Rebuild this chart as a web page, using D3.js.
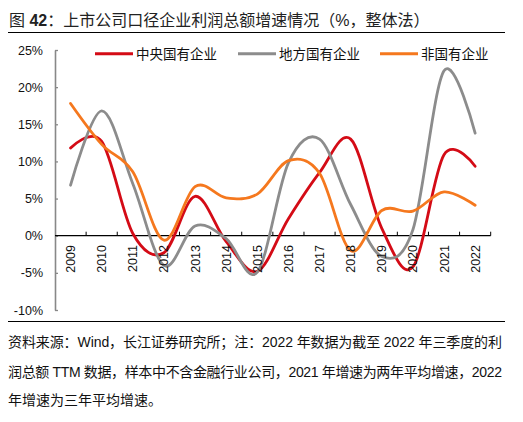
<!DOCTYPE html>
<html lang="zh">
<head>
<meta charset="UTF-8">
<title>上市公司口径企业利润总额增速情况</title>
<script src="https://cdn.jsdelivr.net/npm/d3@7"></script>
<style>
  body { margin: 0; background: #fff; }
  svg { display: block; font-family: "Liberation Sans", Arial, "Noto Sans CJK SC", sans-serif; }
</style>
</head>
<body>
<div id="chart"></div>
<script>
// values (%)
var years = ["2009", "2010", "2011", "2012", "2013", "2014", "2015", "2016", "2017", "2018", "2019", "2020", "2021", "2022"];
var central = [11.8, 12.7, 0.3, -2.3, 5.3, -0.8, -4.8, 2.3, 8.5, 13.0, 1.0, -4.2, 10.9, 9.35];
var local = [6.8, 16.8, 7.0, -4.0, 1.3, -0.4, -4.9, 9.8, 13.0, 4.2, -2.8, 0.8, 22.2, 13.8];
var nonState = [17.8, 12.3, 8.6, -0.6, 6.6, 5.1, 5.6, 10.1, 8.4, -2.0, 3.4, 3.3, 5.9, 4.1];
var seriesNames = ["中央国有企业", "地方国有企业", "非国有企业"];
var seriesColors = ["#d40b16", "#8c8c8c", "#f5781e"];
var yTicks = [-10, -5, 0, 5, 10, 15, 20, 25];

var width = 523, height = 422;
var svg = d3.select("#chart").append("svg")
    .attr("width", width)
    .attr("height", height);

// title + rules
var title = svg.append("text")
    .attr("x", 9)
    .attr("y", 26.3)
    .attr("font-size", "16px")
    .attr("fill", "#222");
title.append("tspan").text("图 ");
title.append("tspan").attr("font-weight", "bold").text("42");
title.append("tspan").text("：上市公司口径企业利润总额增速情况（%，整体法）");

svg.append("line").attr("x1", 8).attr("x2", 505).attr("y1", 32.5).attr("y2", 32.5)
    .attr("stroke", "#000").attr("stroke-width", 1);
svg.append("line").attr("x1", 8).attr("x2", 505).attr("y1", 321.5).attr("y2", 321.5)
    .attr("stroke", "#000").attr("stroke-width", 1);

// scales
var x = d3.scaleBand().domain(years).range([55, 490.7]);
var y = d3.scaleLinear().domain([-10, 25]).range([310, 50]);
var cx = function(d) { return x(d) + x.bandwidth() / 2; };

// y axis
var yAxis = svg.append("g")
    .attr("transform", "translate(55,0)")
    .call(d3.axisLeft(y).tickValues(yTicks)
        .tickFormat(function(d) { return d + "%"; })
        .tickSizeInner(-3).tickSizeOuter(0).tickPadding(12));
yAxis.select(".domain").attr("stroke", "#888").attr("stroke-width", 1.6);
yAxis.selectAll(".tick line").attr("stroke", "#888").attr("stroke-width", 1.3);
yAxis.selectAll(".tick text")
    .attr("font-size", "12.5px")
    .attr("fill", "#111")
    .attr("font-family", "Liberation Sans, Arial, sans-serif");

// x axis on zero line
var y0 = y(0);
svg.append("line")
    .attr("x1", 55).attr("x2", x.range()[1])
    .attr("y1", y0).attr("y2", y0)
    .attr("stroke", "#000").attr("stroke-width", 1.2);
var bounds = years.slice(1).map(function(d) { return x(d); }).concat([x.range()[1]]);
svg.selectAll(".xtick")
    .data(bounds)
    .enter()
    .append("line")
    .attr("class", "xtick")
    .attr("x1", function(d) { return d; })
    .attr("x2", function(d) { return d; })
    .attr("y1", y0)
    .attr("y2", y0 - 4)
    .attr("stroke", "#000")
    .attr("stroke-width", 1);

// lines
var line = d3.line()
    .x(function(d, i) { return cx(years[i]); })
    .y(function(d) { return y(d); })
    .curve(d3.curveCardinal.tension(0));

[central, local, nonState].forEach(function(s, i) {
    svg.append("path")
        .datum(s)
        .attr("d", line)
        .attr("fill", "none")
        .attr("stroke", seriesColors[i])
        .attr("stroke-width", 2.8)
        .attr("stroke-linejoin", "round")
        .attr("stroke-linecap", "round");
});

// x labels (drawn over lines like the original)
svg.selectAll(".xlab")
    .data(years)
    .enter()
    .append("text")
    .attr("class", "xlab")
    .attr("transform", function(d) { return "translate(" + (cx(d) + 0.5) + ",245) rotate(-90)"; })
    .attr("text-anchor", "end")
    .attr("dominant-baseline", "central")
    .attr("font-size", "12.5px")
    .attr("fill", "#111")
    .text(function(d) { return d; });

// legend
var legendX = [95, 238, 380];
var legend = svg.selectAll(".legend")
    .data(seriesNames)
    .enter()
    .append("g")
    .attr("class", "legend")
    .attr("transform", function(d, i) { return "translate(" + legendX[i] + ",53.7)"; });
legend.append("line")
    .attr("x1", 0).attr("x2", 38)
    .attr("stroke", function(d, i) { return seriesColors[i]; })
    .attr("stroke-width", 3);
legend.append("text")
    .attr("x", 41)
    .attr("y", 5)
    .attr("font-size", "13.5px")
    .attr("fill", "#111")
    .text(function(d) { return d; });

// source note
var notes = [
    "资料来源：Wind，长江证券研究所；注：2022 年数据为截至 2022 年三季度的利",
    "润总额 TTM 数据，样本中不含金融行业公司，2021 年增速为两年平均增速，2022",
    "年增速为三年平均增速。"
];
var noteY = [346.8, 376.8, 405.2];
svg.selectAll(".note")
    .data(notes)
    .enter()
    .append("text")
    .attr("class", "note")
    .attr("x", 8)
    .attr("y", function(d, i) { return noteY[i]; })
    .attr("font-size", "14px")
    .attr("fill", "#111")
    .each(function(d, i) {
        if (i < 2) d3.select(this).attr("textLength", 494).attr("lengthAdjust", "spacing");
    })
    .text(function(d) { return d; });
</script>
</body>
</html>
